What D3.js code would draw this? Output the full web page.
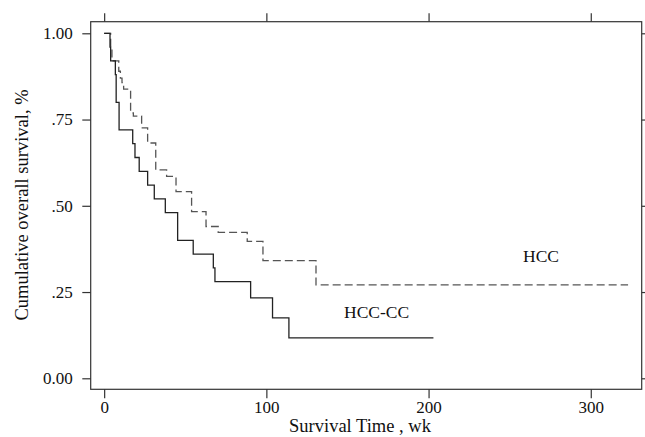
<!DOCTYPE html>
<html>
<head>
<meta charset="utf-8">
<script src="https://cdn.jsdelivr.net/npm/d3@7"></script>
<style>
  body { margin: 0; background: #fff; }
  svg text { font-family: "Liberation Serif", "Times New Roman", serif; fill: #111; }
</style>
</head>
<body>
<div id="chart"></div>
<script>
// Kaplan-Meier steps (weeks, survival fraction)
const hccTime = [0, 4, 4.8, 9, 10, 11, 12, 16.3, 18, 23.1, 26.8, 31.8, 38.5, 44.3, 53.9, 62.8, 70.3, 88.2, 97.9, 130.6, 323];
const hccSurv = [1, .957, .92, .89, .87, .857, .838, .769, .76, .726, .682, .604, .585, .541, .483, .44, .423, .397, .341, .271, .271];

const hccccTime = [0, 3.6, 4, 6.9, 7.4, 9.2, 17.6, 19, 21.6, 26.8, 30.9, 37.7, 45.3, 54.9, 67.3, 68.3, 90.3, 103.8, 113.9, 203];
const hccccSurv = [1, .96, .92, .88, .80, .72, .68, .64, .60, .56, .52, .48, .40, .36, .32, .28, .233, .175, .117, .117];

const xTicks = [0, 100, 200, 300];
const yTicks = [0, .25, .5, .75, 1];

const width = 645, height = 437;
const frame = { left: 90.7, right: 641.7, top: 21.7, bottom: 389.3 };

const svg = d3.select("#chart")
    .append("svg")
        .attr("width", width)
        .attr("height", height);

const x = d3.scaleLinear()
    .domain([-8.3, 331.4])
    .range([frame.left, frame.right]);

const y = d3.scaleLinear()
    .domain([-0.0319, 1.0336])
    .range([frame.bottom, frame.top]);

const fmtY = d => (d === 0 || d === 1) ? d.toFixed(2) : d.toFixed(2).replace(/^0/, "");

// frame
svg.append("rect")
    .attr("x", frame.left)
    .attr("y", frame.top)
    .attr("width", frame.right - frame.left)
    .attr("height", frame.bottom - frame.top)
    .attr("fill", "none")
    .attr("stroke", "#333")
    .attr("stroke-width", 1.2);

// axes
const styleAxis = g => {
    g.select(".domain").remove();
    g.selectAll(".tick line").attr("stroke", "#333").attr("stroke-width", 1.2);
    g.selectAll("text").attr("font-size", 17).attr("fill", "#111")
        .attr("font-family", '"Liberation Serif", "Times New Roman", serif');
};

svg.append("g")
    .attr("transform", "translate(" + frame.left + ",0)")
    .call(d3.axisLeft(y).tickValues(yTicks).tickFormat(fmtY).tickSize(8.4).tickPadding(9.6))
    .call(styleAxis);

svg.append("g")
    .attr("transform", "translate(" + frame.right + ",0)")
    .call(d3.axisRight(y).tickValues(yTicks).tickFormat("").tickSize(6))
    .call(styleAxis);

svg.append("g")
    .attr("transform", "translate(0," + frame.bottom + ")")
    .call(d3.axisBottom(x).tickValues(xTicks).tickFormat(d3.format("d")).tickSize(9).tickPadding(2.7))
    .call(styleAxis);

svg.append("g")
    .attr("transform", "translate(0," + frame.top + ")")
    .call(d3.axisTop(x).tickValues(xTicks).tickFormat("").tickSize(8.4))
    .call(styleAxis);

// axis titles
svg.append("text")
    .attr("x", 360)
    .attr("y", 432)
    .attr("text-anchor", "middle")
    .attr("font-size", 18.5)
    .text("Survival Time , wk");

svg.append("text")
    .attr("transform", "translate(28,205) rotate(-90)")
    .attr("text-anchor", "middle")
    .attr("font-size", 18.5)
    .text("Cumulative overall survival, %");

// survival curves
const line = d3.line()
    .x(d => x(d[0]))
    .y(d => y(d[1]))
    .curve(d3.curveStepAfter);

svg.append("path")
    .datum(d3.zip(hccTime, hccSurv))
    .attr("d", line)
    .attr("fill", "none")
    .attr("stroke", "#555")
    .attr("stroke-width", 1.3)
    .attr("stroke-dasharray", "8,4");

svg.append("path")
    .datum(d3.zip(hccccTime, hccccSurv))
    .attr("d", line)
    .attr("fill", "none")
    .attr("stroke", "#222")
    .attr("stroke-width", 1.3);

// curve labels
svg.append("text")
    .attr("x", 523)
    .attr("y", 262)
    .attr("font-size", 17.5)
    .text("HCC");

svg.append("text")
    .attr("x", 344)
    .attr("y", 318)
    .attr("font-size", 17.5)
    .text("HCC-CC");
</script>
</body>
</html>
